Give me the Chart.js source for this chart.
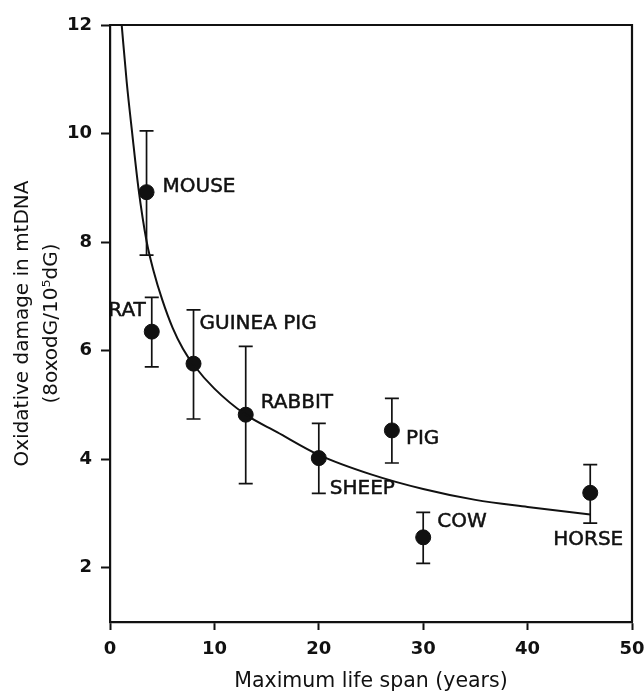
<!DOCTYPE html>
<html>
<head>
<meta charset="utf-8">
<script src="https://cdn.jsdelivr.net/npm/chart.js@4.4.0/dist/chart.umd.min.js"></script>
<style>
html, body { margin: 0; padding: 0; background: #fff; }
#wrap { width: 644px; height: 693px; }
</style>
</head>
<body>
<div id="wrap"><canvas id="myChart"></canvas></div>
<script>
// values
const species = ['MOUSE', 'RAT', 'GUINEA PIG', 'RABBIT', 'SHEEP', 'PIG', 'COW', 'HORSE']
const lifeSpan = [3.5, 4, 8, 13, 20, 27, 30, 46]
const damage = [8.92, 6.35, 5.76, 4.82, 4.02, 4.53, 2.56, 3.38]
const errLow = [7.76, 5.70, 4.74, 3.55, 3.37, 3.93, 2.08, 2.82]
const errHigh = [10.05, 6.98, 6.75, 6.08, 4.66, 5.12, 3.02, 3.90]

// fitted curve
const fitX = [1.12, 1.6, 2.13, 2.72, 3.5, 4.2, 5, 6, 7, 8, 10, 13, 16, 20, 25, 30, 35, 40, 46]
const fitY = [12.0, 10.95, 10.0, 9.0, 8.02, 7.45, 6.94, 6.42, 6.03, 5.74, 5.3, 4.82, 4.5, 4.08, 3.72, 3.45, 3.25, 3.12, 2.98]

const xTicks = [0, 10, 20, 30, 40, 50]
const yTicks = [2, 4, 6, 8, 10, 12]

const ink = '#111'
const font = "'DejaVu Sans', sans-serif"

// where each name sits relative to its point (pixels)
const labelPlace = {
    'MOUSE': { dx: 16, dy: -5, align: 'left' },
    'RAT': { dx: -6, dy: -21, align: 'right' },
    'GUINEA PIG': { dx: 6, dy: -40, align: 'left' },
    'RABBIT': { dx: 15, dy: -12, align: 'left' },
    'SHEEP': { dx: 11, dy: 31, align: 'left' },
    'PIG': { dx: 14, dy: 8, align: 'left' },
    'COW': { dx: 14, dy: -16, align: 'left' },
    'HORSE': { dx: -2, dy: 47, align: 'center' }
}

const points = lifeSpan.map((x, i) => ({ x: x, y: damage[i] }))
const curve = fitX.map((x, i) => ({ x: x, y: fitY[i] }))

const errorBars = {
    id: 'errorBars',
    beforeDatasetsDraw(chart) {
        const ctx = chart.ctx
        const xs = chart.scales.x
        const ys = chart.scales.y
        ctx.save()
        ctx.strokeStyle = ink
        ctx.lineWidth = 1.7
        lifeSpan.forEach((v, i) => {
            const px = xs.getPixelForValue(v)
            const top = ys.getPixelForValue(errHigh[i])
            const bot = ys.getPixelForValue(errLow[i])
            ctx.beginPath()
            ctx.moveTo(px, top)
            ctx.lineTo(px, bot)
            ctx.moveTo(px - 7, top)
            ctx.lineTo(px + 7, top)
            ctx.moveTo(px - 7, bot)
            ctx.lineTo(px + 7, bot)
            ctx.stroke()
        })
        ctx.restore()
    },
    afterDraw(chart) {
        const ctx = chart.ctx
        const xs = chart.scales.x
        const ys = chart.scales.y
        const area = chart.chartArea
        ctx.save()
        // box round the plot
        ctx.strokeStyle = ink
        ctx.lineWidth = 2.2
        ctx.beginPath()
        ctx.moveTo(area.left, area.top)
        ctx.lineTo(area.right, area.top)
        ctx.lineTo(area.right, area.bottom)
        ctx.stroke()
        // species names
        ctx.fillStyle = ink
        ctx.lineWidth = 0.5
        ctx.font = "20px " + font
        ctx.textBaseline = 'middle'
        species.forEach((name, i) => {
            const p = labelPlace[name]
            const tx = xs.getPixelForValue(lifeSpan[i]) + p.dx
            const ty = ys.getPixelForValue(damage[i]) + p.dy
            ctx.textAlign = p.align
            ctx.fillText(name, tx, ty)
            ctx.strokeText(name, tx, ty)
        })
        ctx.restore()
    }
}

const ctx = document.getElementById('myChart').getContext('2d')
const myChart = new Chart(ctx, {
    type: 'scatter',
    data: {
        datasets: [{
            label: 'fit',
            data: curve,
            showLine: true,
            borderColor: ink,
            borderWidth: 2,
            pointRadius: 0,
            cubicInterpolationMode: 'monotone'
        }, {
            label: 'species',
            data: points,
            backgroundColor: ink,
            borderColor: ink,
            pointRadius: 7.5,
            pointHoverRadius: 7.5
        }]
    },
    options: {
        responsive: true,
        maintainAspectRatio: false,
        animation: false,
        events: [],
        layout: { padding: { top: 25, right: 0, left: 0, bottom: 0 } },
        plugins: {
            legend: { display: false },
            tooltip: { enabled: false }
        },
        scales: {
            x: {
                type: 'linear',
                min: 0,
                max: 50,
                afterBuildTicks: s => { s.ticks = xTicks.map(v => ({ value: v })) },
                afterFit: s => { s.height = 71; s.paddingRight = 12 },
                border: { display: true, color: ink, width: 2.2 },
                grid: { drawOnChartArea: false, drawTicks: true, tickLength: 8, tickColor: ink, tickWidth: 2 },
                ticks: { color: ink, font: { family: font, size: 18, weight: 'bold' }, padding: 9 },
                title: {
                    display: true,
                    text: 'Maximum life span (years)',
                    color: ink,
                    font: { family: font, size: 20.5, lineHeight: 1.1 },
                    padding: { top: 0, bottom: 0 }
                }
            },
            y: {
                type: 'linear',
                min: 1,
                max: 12,
                afterBuildTicks: s => { s.ticks = yTicks.map(v => ({ value: v })) },
                afterFit: s => { s.width = 110 },
                border: { display: true, color: ink, width: 2.2 },
                grid: { drawOnChartArea: false, drawTicks: true, tickLength: 9, tickColor: ink, tickWidth: 2 },
                ticks: { color: ink, font: { family: font, size: 18, weight: 'bold' }, padding: 9 },
                title: {
                    display: true,
                    text: ['Oxidative damage in mtDNA', '(8oxodG/10\u2075dG)'],
                    color: ink,
                    font: { family: font, size: 20, lineHeight: 1.45 },
                    padding: { top: 8, bottom: 0 }
                }
            }
        }
    },
    plugins: [errorBars]
})
</script>
</body>
</html>
